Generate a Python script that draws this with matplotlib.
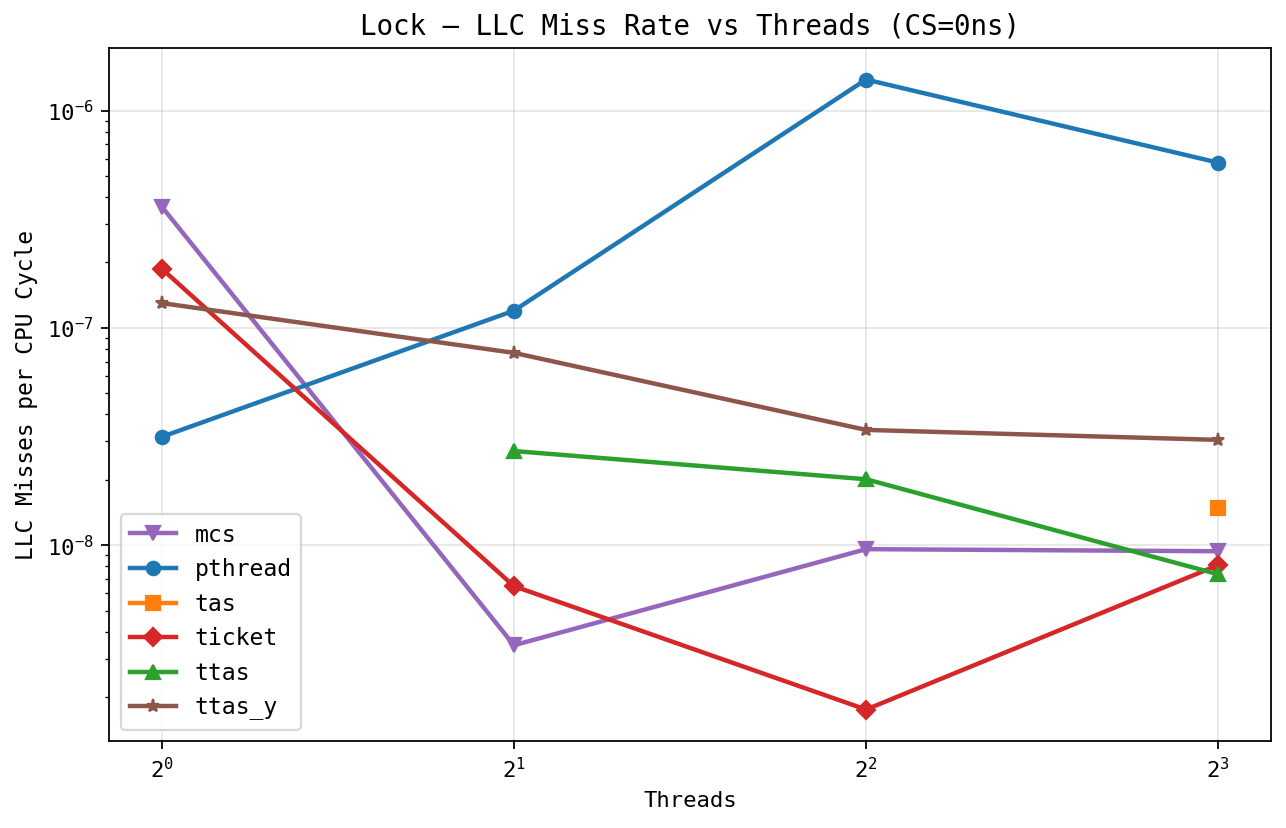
import numpy as np
import matplotlib
matplotlib.use("Agg")
import matplotlib.pyplot as plt

plt.rcParams["font.family"] = "DejaVu Sans Mono"
plt.rcParams["mathtext.fontset"] = "custom"
plt.rcParams["mathtext.rm"] = "DejaVu Sans Mono"
plt.rcParams["mathtext.it"] = "DejaVu Sans Mono"
plt.rcParams["font.size"] = 10

threads = [1, 2, 4, 8]
nan = np.nan

mcs = [3.61e-7, 3.46e-9, 9.58e-9, 9.37e-9]
pthread = [3.15e-8, 1.20e-7, 1.39e-6, 5.76e-7]
tas = [nan, nan, nan, 1.48e-8]
ticket = [1.87e-7, 6.47e-9, 1.75e-9, 8.09e-9]
ttas = [nan, 2.71e-8, 2.01e-8, 7.34e-9]
ttas_y = [1.30e-7, 7.67e-8, 3.39e-8, 3.05e-8]

series = [
    ("mcs", mcs, "v", "C4"),
    ("pthread", pthread, "o", "C0"),
    ("tas", tas, "s", "C1"),
    ("ticket", ticket, "D", "C3"),
    ("ttas", ttas, "^", "C2"),
    ("ttas_y", ttas_y, "*", "C5"),
]

fig = plt.figure(figsize=(8.0375, 5.175), dpi=160)
ax = fig.add_axes([0.0848, 0.105, 0.9035, 0.837])

for name, vals, marker, color in series:
    ax.plot(threads, vals, marker=marker, color=color, label=name,
            linewidth=2, markersize=6)

ax.set_xscale("log", base=2)
ax.set_yscale("log")
ax.set_xticks(threads)
ax.set_title("Lock \u2014 LLC Miss Rate vs Threads (CS=0ns)", fontsize=12.4)
ax.set_xlabel("Threads")
ax.set_ylabel("LLC Misses per CPU Cycle", fontsize=10.3)
ax.grid(True, alpha=0.3)
ax.legend(loc="lower left", fontsize=10.4)

fig.savefig("out.png", dpi=160)
